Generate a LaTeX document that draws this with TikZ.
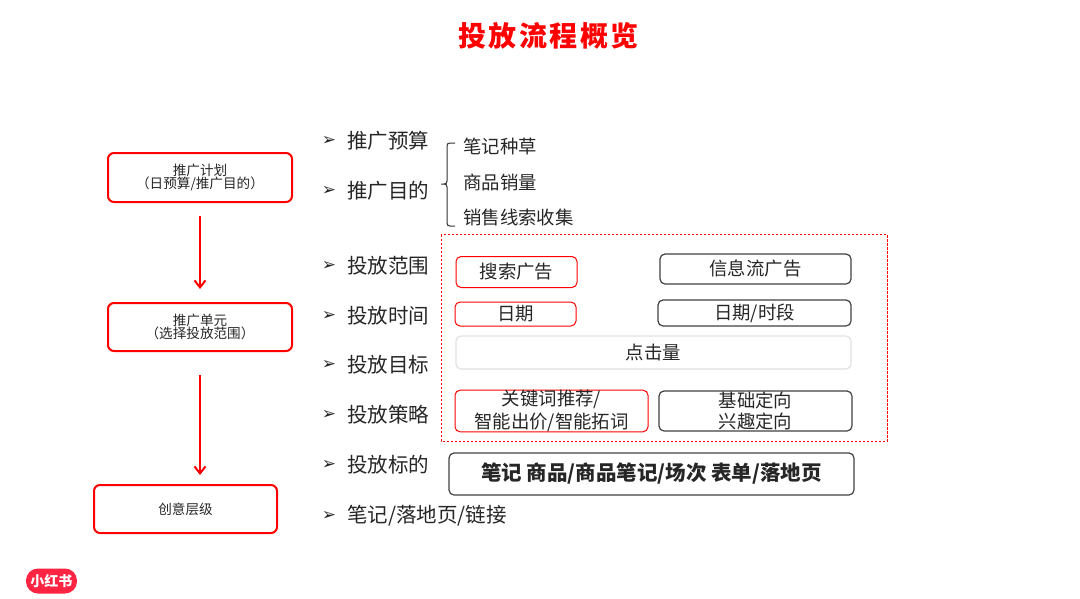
\documentclass[tikz,border=0pt]{standalone}
\usepackage{fontspec}
\setmainfont{Noto Sans CJK SC}
\newfontfamily\bulletfont{DejaVu Sans}
\usetikzlibrary{arrows.meta}
\definecolor{inkcol}{HTML}{262626}
\definecolor{logocol}{HTML}{FF2442}
\newcommand{\fsize}[1]{\fontsize{#1}{#1}\selectfont}
\tikzset{
  layerbox/.style={draw=red, line width=2pt, rounded corners=6pt, text=inkcol, align=center, inner sep=0pt, font=\fsize{13.6}},
  redbox/.style={draw=red, line width=1pt, rounded corners=5pt, text=inkcol, align=center, inner sep=0pt, font=\fsize{18.4}},
  darkbox/.style={draw=black!75, line width=1.2pt, rounded corners=5pt, text=inkcol, align=center, inner sep=0pt, font=\fsize{18.4}},
  itemtext/.style={anchor=west, text=inkcol, inner sep=0pt, font=\fsize{20.5}},
  subtext/.style={anchor=west, text=inkcol, inner sep=0pt, font=\fsize{18.4}},
  bullet/.style={text=inkcol, inner sep=0pt, font=\bulletfont\fsize{17}},
  flowarrow/.style={draw=red, line width=2pt, -{Straight Barb[length=7pt,width=11pt]}}
}
\begin{document}
\begin{tikzpicture}[x=1pt,y=-1pt]
\useasboundingbox (0,0) rectangle (1080,598);

\node[text=red, inner sep=0pt, font=\bfseries\fsize{28}] (title) at (548.5,36) {投\hspace{2.5pt}放\hspace{2.5pt}流\hspace{2.5pt}程\hspace{2.5pt}概\hspace{2.5pt}览};

% left column
\node[layerbox, minimum width=184, minimum height=49] (plan) at (200,177.5) {推广计划\\[-1pt]（日预算/推广目的）};
\node[layerbox, minimum width=184, minimum height=48] (unit) at (200,327) {推广单元\\[-1pt]（选择投放范围）};
\node[layerbox, minimum width=183, minimum height=48] (idea) at (185.5,509) {创意层级};
\draw[flowarrow, shorten <=13, shorten >=13] (plan.south) -- (unit.north);
\draw[flowarrow, shorten <=23, shorten >=9] (unit.south) -- (unit.south |- idea.north);

% bullet list
\node[bullet] (b1) at (329,141) {➢};
\node[bullet] (b2) at (329,191) {➢};
\node[bullet] (b3) at (329,266) {➢};
\node[bullet] (b4) at (329,316) {➢};
\node[bullet] (b5) at (329,365) {➢};
\node[bullet] (b6) at (329,415) {➢};
\node[bullet] (b7) at (329,465) {➢};
\node[bullet] (b8) at (329,516) {➢};
\node[itemtext] (t1) at (347,141) {推广预算};
\node[itemtext] (t2) at (347,191) {推广目的};
\node[itemtext] (t3) at (347,266) {投放范围};
\node[itemtext] (t4) at (347,316) {投放时间};
\node[itemtext] (t5) at (347,365) {投放目标};
\node[itemtext] (t6) at (347,415) {投放策略};
\node[itemtext] (t7) at (347,465) {投放标的};
\node[itemtext] (t8) at (347,516) {笔记/落地页/链接};

% goals and their bracket
\node[subtext] (g1) at (463,146) {笔记种草};
\node[subtext] (g2) at (463,182) {商品销量};
\node[subtext] (g3) at (463,217) {销售线索收集};
\draw[black!80, line width=1pt] (455,143) -- (450,143) .. controls (448,143) and (447,144) .. (447,146)
  -- (447,181) .. controls (447,183) and (446,184) .. (444,184) -- (441,184)
  (444,184) .. controls (446,184) and (447,185) .. (447,187)
  -- (447,223) .. controls (447,225) and (448,226) .. (450,226) -- (455,226);

% dashed frame
\draw[red, line width=0.8pt, dashed, dash pattern=on 2.5pt off 1.5pt] (441,234.5) rectangle (887,441);

\node[redbox, minimum width=121, minimum height=31] (search) at (516.5,272) {搜索广告};
\node[darkbox, minimum width=191, minimum height=30] (feed) at (755.5,269) {信息流广告};
\node[redbox, minimum width=121, minimum height=24] (date) at (515.5,314) {日期};
\node[darkbox, minimum width=193, minimum height=26] (slot) at (754.5,313) {日期/时段};
\node[draw=black!12, line width=1.2pt, rounded corners=5pt, text=inkcol, inner sep=0pt, font=\fsize{18.4}, minimum width=395, minimum height=33] (click) at (653.5,352.5) {点击量};
\node[redbox, minimum width=193, minimum height=40] (kw) at (551.5,411) {关键词推荐/\\[3pt]智能出价/智能拓词};
\node[darkbox, minimum width=193, minimum height=40] (basic) at (755.5,411) {基础定向\\[3pt]兴趣定向};
\node[darkbox, minimum width=405, minimum height=42, font=\bfseries\fsize{20.5}] (target) at (651.5,474) {笔记 商品/商品笔记/场次 表单/落地页};

% logo
\node[fill=logocol, text=white, rounded corners=12pt, inner sep=0pt, minimum width=51, minimum height=25, font=\bfseries\fsize{14}] (logo) at (51.5,581) {小红书};
\end{tikzpicture}
\end{document}
